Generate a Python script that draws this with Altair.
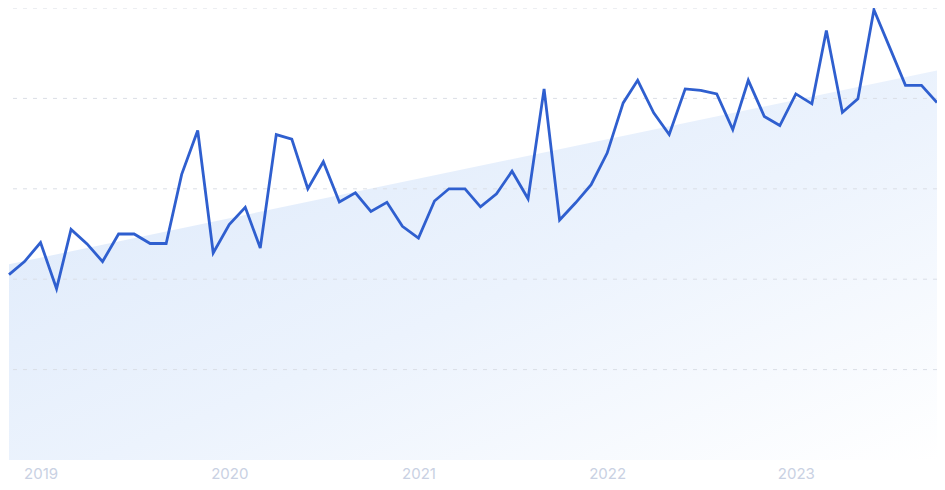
import altair as alt
import pandas as pd

# Monthly values, Nov 2018 .. Oct 2023 (index on a 0-100 scale)
values = [41.0, 43.9, 48.1, 37.9, 51.0, 47.8, 43.9, 50.0, 50.0, 47.9,
          47.9, 63.2, 72.9, 45.8, 52.1, 55.9, 46.9, 72.0, 71.0, 60.0,
          66.0, 57.1, 59.1, 55.0, 57.0, 51.7, 49.1, 57.3, 60.0, 60.0,
          56.0, 58.9, 63.9, 57.8, 82.1, 53.1, 56.9, 60.9, 67.9, 79.0,
          84.0, 76.8, 72.0, 82.1, 81.8, 81.0, 73.1, 84.0, 76.0, 74.0,
          81.0, 78.8, 95.0, 76.9, 79.9, 99.6, 91.4, 82.9, 82.9, 79.1]
months = [d.strftime("%Y-%m-%dT00:00:00") for d in pd.date_range("2018-11-01", periods=len(values), freq="MS")]

# Trend line (start / end)
trend_months = [months[0], months[-1]]
trend_values = [43.3, 86.2]

years = [2019, 2020, 2021, 2022, 2023]
grid_values = [20, 40, 60, 80, 100]

df = pd.DataFrame({"month": months, "value": values})
tdf = pd.DataFrame({"month": trend_months, "value": trend_values})
gdf = pd.DataFrame({"g": grid_values})

xscale = alt.Scale(domain=[months[0], months[-1]], nice=False, padding=0)
yscale = alt.Scale(domain=[0, 100], nice=False)

xaxis = alt.Axis(
    title=None, values=[alt.DateTime(year=y, month=1, date=1) for y in years],
    format="%Y", labelColor="#c9d1e3", labelFont="Inter", labelFontSize=15,
    labelBaseline="alphabetic", labelPadding=18,
    ticks=False, domain=False, grid=False,
)
yaxis = alt.Axis(title=None, labels=False, ticks=False, domain=False, grid=False)

area = alt.Chart(tdf).mark_area(
    color=alt.Gradient(
        gradient="linear", x1=0, y1=0, x2=1, y2=1,
        stops=[alt.GradientStop(offset=0, color="#dbe8fa"),
               alt.GradientStop(offset=0.55, color="#ecf3fd"),
               alt.GradientStop(offset=1, color="#ffffff")],
    ),
    line=False,
).encode(
    x=alt.X("month:T", scale=xscale, axis=xaxis),
    y=alt.Y("value:Q", scale=yscale, axis=yaxis),
)

grid = alt.Chart(gdf).mark_rule(color="#dadee6", strokeWidth=1, strokeDash=[4, 6]).encode(
    y=alt.Y("g:Q", scale=yscale),
)

line = alt.Chart(df).mark_line(color="#2f5fcf", strokeWidth=2.8, strokeJoin="miter").encode(
    x=alt.X("month:T", scale=xscale),
    y=alt.Y("value:Q", scale=yscale),
)

chart = alt.layer(area, grid, line).properties(
    width=928, height=452,
    autosize=alt.AutoSizeParams(type="none"),
    padding={"left": 1, "top": 0, "right": 0, "bottom": 22},
).configure(
    background="white",
    view=alt.ViewConfig(stroke="transparent"),
)

chart.save("out.html", embed_options={"renderer": "svg", "actions": False})
